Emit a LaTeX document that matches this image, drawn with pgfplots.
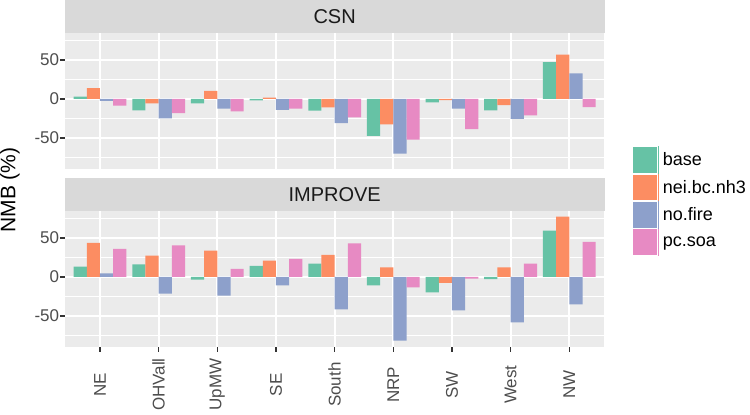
\documentclass[border=0pt]{standalone}
\usepackage{pgfplots}
\pgfplotsset{compat=1.18}
\usepackage{pgfplotstable}
\usepackage{fontspec}
\setmainfont{Liberation Sans}
\definecolor{cbase}{HTML}{66C2A5}
\definecolor{cnei}{HTML}{FC8D62}
\definecolor{cnofire}{HTML}{8DA0CB}
\definecolor{cpcsoa}{HTML}{E78AC3}
\definecolor{panelbg}{HTML}{EBEBEB}
\definecolor{stripbg}{HTML}{D9D9D9}
\definecolor{gray30}{HTML}{4D4D4D}
\definecolor{gray20}{HTML}{333333}
\definecolor{gray10}{HTML}{1A1A1A}
\newcommand\tickfont{\fontsize{17}{20}\selectfont\color{gray30}}
\newcommand\stripfont{\fontsize{20}{24}\selectfont}
\newcommand\legfont{\fontsize{18}{21}\selectfont}
\newcommand\titlefont{\fontsize{21}{25}\selectfont}
\newcommand\keybox[1]{\fill[#1] (0pt,-13.35pt) rectangle (25pt,13.35pt);
  \draw[white, line width=0.7pt] (0pt,-13.35pt) rectangle (25pt,13.35pt);}

\pgfplotstableread{
x base nei nofire pcsoa
0 3 14 -2.5 -8.5
1 -14.5 -5.5 -25 -18
2 -5.5 10.5 -12.5 -16
3 -1.7 1.7 -14 -12.5
4 -15 -10.7 -30.8 -23.5
5 -47.4 -32.5 -70 -52
6 -4.3 -1.5 -12.5 -38.5
7 -14.5 -8 -25.6 -21
8 47.4 56.8 32.8 -10.5
}\csn
\pgfplotstableread{
x base nei nofire pcsoa
0 13.2 43.6 4.7 35.9
1 16.2 27.4 -21.4 40.6
2 -3.4 33.8 -23.9 10.3
3 14.1 20.9 -10.7 23.1
4 17.1 28.2 -41.5 43.2
5 -10.7 12.4 -81.6 -13.2
6 -19.7 -7.7 -42.7 -2.1
7 -2.6 12.4 -58.1 17.1
8 59.4 77.4 -35 44.9
}\improve

\pgfplotsset{
  panel/.style={
    width=539.7pt, height=136pt, scale only axis,
    xmin=-0.6, xmax=8.6, ymin=-89.4, ymax=85,
    axis background/.style={fill=panelbg},
    axis line style={draw=none},
    xtick={0,...,8}, ytick={-50,0,50}, yticklabels={-50,0,50},
    minor ytick={-75,-25,25,75},
    xmajorgrids, ymajorgrids, yminorgrids,
    major grid style={white, line width=2pt},
    minor grid style={white, line width=1pt},
    tick align=outside, major tick length=5pt, minor tick length=0pt,
    tick style={gray20, line width=1.6pt},
    xtick pos=left, ytick pos=left,
    yticklabel style={font=\tickfont, inner sep=0pt, anchor=east, xshift=-0.5pt},
  },
  bars/.style={ybar, bar width=0.225, draw=none, forget plot},
}

\begin{document}
\begin{tikzpicture}[x=1pt,y=1pt]
\path[use as bounding box] (0,0) rectangle (750,-415);

\begin{axis}[panel, name=csn, at={(64.8pt,-168.7pt)}, anchor=south west,
  xticklabels={}, every major x tick/.append style={draw=none},
  legend style={at={(axis description cs:1.0515,0.1669)}, anchor=north west,
    draw=none, fill=none, inner sep=0pt, row sep=0pt, font=\legfont,
    cells={anchor=west}, nodes={inner sep=0pt},
    /tikz/every odd column/.append style={column sep=4.7pt}},
]
\addplot[bars, bar shift=-0.3375, fill=cbase] table[x=x, y=base] {\csn};
\addplot[bars, bar shift=-0.1125, fill=cnei] table[x=x, y=nei] {\csn};
\addplot[bars, bar shift=0.1125, fill=cnofire] table[x=x, y=nofire] {\csn};
\addplot[bars, bar shift=0.3375, fill=cpcsoa] table[x=x, y=pcsoa] {\csn};
\addlegendimage{legend image code/.code={\keybox{cbase}}}
\addlegendimage{legend image code/.code={\keybox{cnei}}}
\addlegendimage{legend image code/.code={\keybox{cnofire}}}
\addlegendimage{legend image code/.code={\keybox{cpcsoa}}}
\legend{base, nei.bc.nh3, no.fire, pc.soa}
\end{axis}

\begin{axis}[panel, name=imp, at={(64.8pt,-346.7pt)}, anchor=south west,
  xticklabels={NE,OHVall,UpMW,SE,South,NRP,SW,West,NW},
  xticklabel style={font=\tickfont, yshift=-33pt, rotate=90, anchor=center, inner sep=0pt},
]
\addplot[bars, bar shift=-0.3375, fill=cbase] table[x=x, y=base] {\improve};
\addplot[bars, bar shift=-0.1125, fill=cnei] table[x=x, y=nei] {\improve};
\addplot[bars, bar shift=0.1125, fill=cnofire] table[x=x, y=nofire] {\improve};
\addplot[bars, bar shift=0.3375, fill=cpcsoa] table[x=x, y=pcsoa] {\improve};
\end{axis}

\fill[stripbg] (csn.north west) rectangle ([yshift=32.7pt]csn.north east);
\node[font=\stripfont, text=gray10, inner sep=0pt] at ([yshift=16.35pt]csn.north) {CSN};
\fill[stripbg] (imp.north west) rectangle ([yshift=32.4pt]imp.north east);
\node[font=\stripfont, text=gray10, inner sep=0pt] at ([yshift=16.2pt]imp.north) {IMPROVE};

\node[rotate=90, font=\titlefont, inner sep=0pt] at (10,-190) {NMB (\%)};
\end{tikzpicture}
\end{document}
